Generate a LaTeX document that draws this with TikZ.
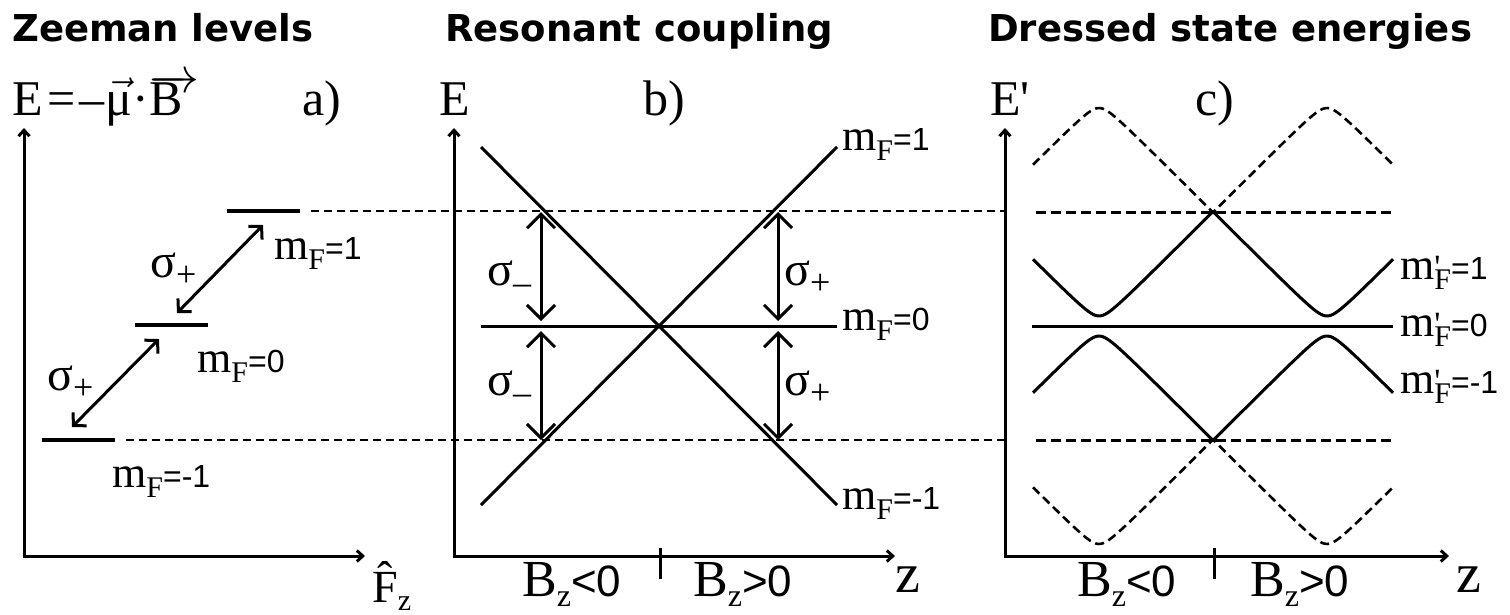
\documentclass[tikz,border=0pt]{standalone}
\usepackage{fix-cm}
\usepackage{fontspec}
\usetikzlibrary{arrows.meta}
\setmainfont{Liberation Serif}
\newfontfamily\arial{Liberation Sans}
\newfontfamily\ttl{DejaVu Sans}
\newcommand\fs[1]{\fontsize{#1}{#1}\selectfont}
\newcommand\mFlab[1]{{\fs{44}m\raisebox{-10pt}{\fs{30}F}}{\arial\fs{32}#1}}
\newcommand\mFplab[1]{{\fs{44}m\rlap{\raisebox{1pt}{\fs{34}\textquotesingle}}\raisebox{-10pt}{\fs{30}F}}{\arial\fs{32}#1}}
\newcommand\sig[1]{{\fs{48}σ}\raisebox{-9pt}{\fs{36}#1}}
\newcommand\Bz[1]{{\fs{52}B}\raisebox{-10pt}{\fs{32}z}{\arial\fs{44}#1}}
\newcommand\vecB{\setbox0\hbox{B}\rlap{\raisebox{23pt}{\hbox to \wd0{\rightarrowfill}}}B}
\newcommand\hatF{\setbox0\hbox{F}\rlap{\raisebox{9pt}{\hbox to \wd0{\hss ˆ\hss}}}F}
\tikzset{
  axisline/.style={line width=3pt, {Straight Barb[length=6pt,width=11pt]}-{Straight Barb[length=6pt,width=11pt]}},
  lvl/.style={line width=4pt},
  energy/.style={line width=3pt},
  thindash/.style={line width=1.3pt, dash pattern=on 8pt off 5pt},
  thickdash/.style={line width=3pt, dash pattern=on 10pt off 5pt},
  curvedash/.style={line width=2.6pt, dash pattern=on 9pt off 5pt},
  trans/.style={line width=3pt, {Straight Barb[length=9pt,width=19pt]}-{Straight Barb[length=9pt,width=19pt]}},
  vtrans/.style={line width=3pt, {Straight Barb[length=14pt,width=28pt]}-{Straight Barb[length=14pt,width=28pt]}},
  lbl/.style={inner sep=0pt, anchor=base west},
  tick/.style={line width=3pt},
}
\begin{document}
\begin{tikzpicture}[x=1pt,y=-1pt]
\fill[white] (0,0) rectangle (1510,614);
\useasboundingbox (0,0) rectangle (1510,614);

% titles
\node[lbl] (t1) at (12,41) {\ttl\bfseries\fs{37}Zeeman levels};
\node[lbl] (t2) at (445,41) {\ttl\bfseries\fs{37}Resonant coupling};
\node[lbl] (t3) at (988,41) {\ttl\bfseries\fs{37}Dressed state energies};

% ---------------- panel a
\node[lbl] (aE) at (12,115) {\fs{50}E\kern5pt=\kern4pt–\kern1pt$\vec{\mbox{μ}}$·\vecB};
\node[lbl] (alab) at (302,115) {\fs{50}a)};
\coordinate (aO) at (24,556);
\coordinate (aY) at (24,128);
\coordinate (aX) at (365,556);
\draw[axisline] (aY) -- (aO) -- (aX);
\node[lbl] (aF) at (372,602) {\fs{46}\hatF\raisebox{-8pt}{\fs{30}z}};

\coordinate (p1a) at (227,211); \coordinate (p1b) at (300,211);
\coordinate (p0a) at (135,325); \coordinate (p0b) at (208,325);
\coordinate (pma) at (42,440);  \coordinate (pmb) at (115,440);
\draw[lvl] (p1a) -- (p1b);
\draw[lvl] (p0a) -- (p0b);
\draw[lvl] (pma) -- (pmb);

\coordinate (t1s) at (177,313); \coordinate (t1e) at (263,225);
\coordinate (t2s) at (72,427);  \coordinate (t2e) at (159,339);
\draw[trans] (t1s) -- (t1e);
\draw[trans] (t2s) -- (t2e);
\node[lbl] (as1) at (150,277) {\sig{+}};
\node[lbl] (as2) at (47,390) {\sig{+}};
\node[lbl] (am1) at (274,259) {\mFlab{=1}};
\node[lbl] (am0) at (197,372) {\mFlab{=0}};
\node[lbl] (amm) at (112,487) {\mFlab{=-1}};

% dashed guide lines
\coordinate (g1) at (1005,211);
\coordinate (g2) at (1005,440);
\draw[thindash] ([xshift=11pt]p1b) -- (g1);
\draw[thindash] ([xshift=11pt]pmb) -- (g2);

% ---------------- panel b
\node[lbl] (bE) at (439,115) {\fs{50}E};
\node[lbl] (blab) at (643,115) {\fs{50}b)};
\coordinate (bO) at (454,556);
\coordinate (bY) at (454,128);
\coordinate (bX) at (895,556);
\draw[axisline] (bY) -- (bO) -- (bX);
\coordinate (bT1) at (660,548); \coordinate (bT2) at (660,579);
\draw[tick] (bT1) -- (bT2);

\coordinate (bD1) at (481,147); \coordinate (bD2) at (837,505);
\coordinate (bA1) at (481,505); \coordinate (bA2) at (837,147);
\coordinate (bH1) at (481,326); \coordinate (bH2) at (837,326);
\draw[energy] (bD1) -- (bD2);
\draw[energy] (bA1) -- (bA2);
\draw[energy] (bH1) -- (bH2);

\coordinate (sl1) at (541,212); \coordinate (sl2) at (541,321);
\coordinate (sl3) at (541,331); \coordinate (sl4) at (541,440);
\coordinate (sr1) at (778,212); \coordinate (sr2) at (778,321);
\coordinate (sr3) at (778,331); \coordinate (sr4) at (778,440);
\draw[vtrans] (sl1) -- (sl2);
\draw[vtrans] (sl3) -- (sl4);
\draw[vtrans] (sr1) -- (sr2);
\draw[vtrans] (sr3) -- (sr4);
\node[lbl] (bs1) at (487,285) {\sig{–}};
\node[lbl] (bs2) at (487,395) {\sig{–}};
\node[lbl] (bs3) at (784,285) {\sig{+}};
\node[lbl] (bs4) at (784,395) {\sig{+}};

\node[lbl] (bm1) at (842,150) {\mFlab{=1}};
\node[lbl] (bm0) at (842,330) {\mFlab{=0}};
\node[lbl] (bmm) at (842,509) {\mFlab{=-1}};

\node[lbl] (bB1) at (522,596) {\Bz{<0}};
\node[lbl] (bB2) at (693,596) {\Bz{>0}};
\node[lbl] (bz) at (895,592) {\fs{56}z};

% ---------------- panel c
\node[lbl] (cE) at (990,115) {\fs{50}E\textquotesingle};
\node[lbl] (clab) at (1195,115) {\fs{50}c)};
\coordinate (cO) at (1005,556);
\coordinate (cY) at (1005,128);
\coordinate (cX) at (1449,556);
\draw[axisline] (cY) -- (cO) -- (cX);
\coordinate (cT1) at (1214,548); \coordinate (cT2) at (1214,579);
\draw[tick] (cT1) -- (cT2);

\coordinate (ch1a) at (1036,212); \coordinate (ch1b) at (1393,212);
\coordinate (ch2a) at (1036,440); \coordinate (ch2b) at (1393,440);
\coordinate (ch0a) at (1032,326); \coordinate (ch0b) at (1393,326);
\draw[thickdash] (ch1a) -- (ch1b);
\draw[thickdash] (ch2a) -- (ch2b);
\draw[energy] (ch0a) -- (ch0b);

\begin{scope}[shift={(1213,326)}]
  \draw[energy, line join=round] plot[domain=-180:180, samples=145] (\x, {-sqrt((abs(\x)-114)^2+100)});
  \draw[energy, line join=round] plot[domain=-180:180, samples=145] (\x, {sqrt((abs(\x)-114)^2+100)});
  \draw[curvedash] plot[domain=-180:180, samples=145] (\x, {-228+sqrt((abs(\x)-114)^2+100)});
  \draw[curvedash] plot[domain=-180:180, samples=145] (\x, {228-sqrt((abs(\x)-114)^2+100)});
\end{scope}

\node[lbl] (cm1) at (1400,279) {\mFplab{=1}};
\node[lbl] (cm0) at (1400,336) {\mFplab{=0}};
\node[lbl] (cmm) at (1400,393) {\mFplab{=-1}};

\node[lbl] (cB1) at (1077,596) {\Bz{<0}};
\node[lbl] (cB2) at (1250,596) {\Bz{>0}};
\node[lbl] (cz) at (1456,592) {\fs{56}z};
\end{tikzpicture}
\end{document}
